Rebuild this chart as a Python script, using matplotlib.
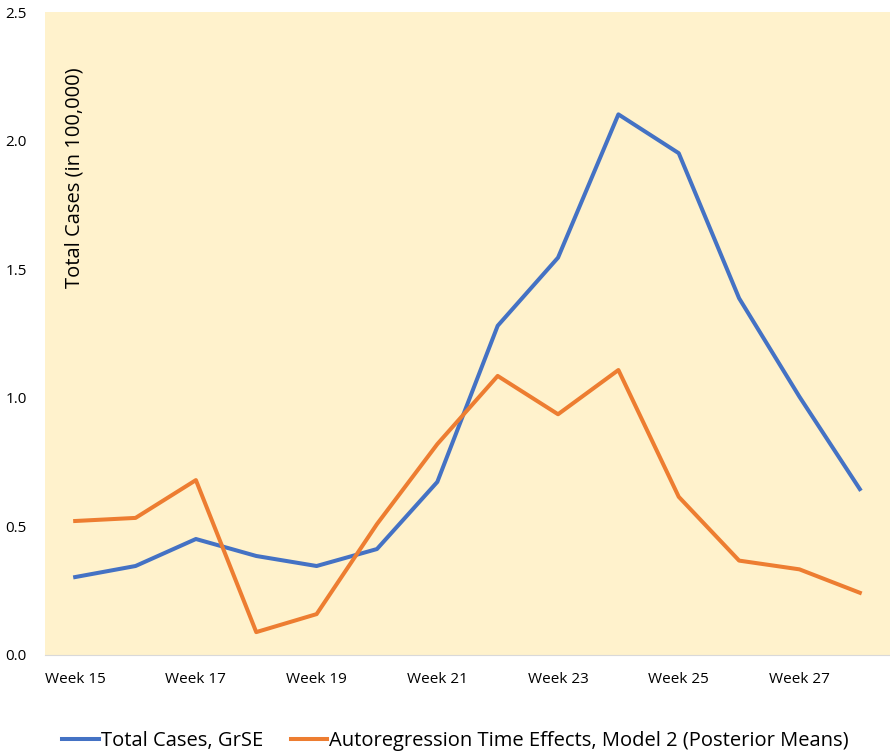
import numpy as np
import matplotlib.pyplot as plt

plt.rcParams['font.family'] = ['Open Sans', 'DejaVu Sans']

weeks = ["Week %d" % w for w in range(15, 29)]
total_cases = [0.303, 0.346, 0.451, 0.385, 0.346, 0.412, 0.673,
               1.280, 1.545, 2.102, 1.951, 1.387, 1.004, 0.645]
ar_effects = [0.521, 0.533, 0.680, 0.089, 0.159, 0.509, 0.820,
              1.085, 0.936, 1.108, 0.615, 0.367, 0.333, 0.242]

fig = plt.figure(figsize=(8.9, 7.54), dpi=100)
ax = fig.add_axes([45 / 890, 1 - 655 / 754, 845 / 890, 643 / 754])
ax.set_facecolor('#FFF2CC')

x = np.arange(len(weeks))
ax.plot(x, total_cases, color='#4472C4', lw=2.9, label='Total Cases, GrSE')
ax.plot(x, ar_effects, color='#ED7D31', lw=2.9,
        label='Autoregression Time Effects, Model 2 (Posterior Means)')

ax.set_xlim(-0.5, len(weeks) - 0.5)
ax.set_ylim(0, 2.5)
ax.set_xticks(x[::2])
ax.set_xticklabels(weeks[::2], fontsize=11)
ax.set_yticks(np.arange(0, 2.51, 0.5))
ax.set_yticklabels(["%.1f" % v for v in np.arange(0, 2.51, 0.5)], fontsize=11)
ax.tick_params(length=0, pad=12)
ax.tick_params(axis='y', pad=13)
for side in ['top', 'right', 'left']:
    ax.spines[side].set_visible(False)
ax.spines['bottom'].set_color('#D9D9D9')

ax.text(0.035, 0.742, 'Total Cases (in 100,000)', transform=ax.transAxes,
        rotation=90, ha='center', va='center', fontsize=14.5)

fig.legend(loc='center', bbox_to_anchor=(0.512, 1 - 741 / 754), ncol=2,
           frameon=False, fontsize=14.5, handlelength=1.8, handletextpad=0.1,
           columnspacing=1.4)

fig.savefig('out.png', dpi=100)
